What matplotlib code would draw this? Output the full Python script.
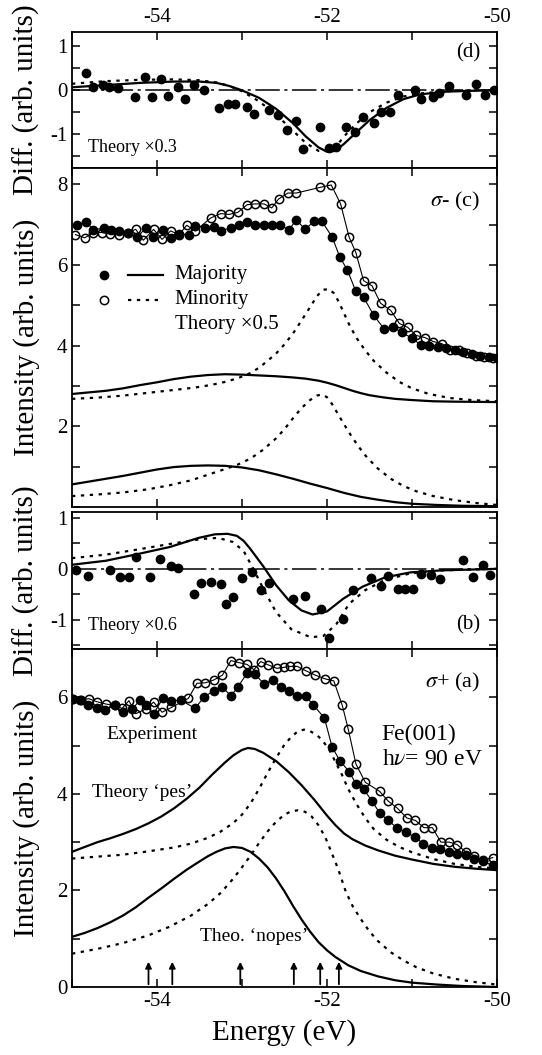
import numpy as np
import matplotlib
matplotlib.use("Agg")
import matplotlib.pyplot as plt
from matplotlib.ticker import MultipleLocator

plt.rcParams['font.family'] = ['Liberation Serif', 'DejaVu Serif']
plt.rcParams['mathtext.fontset'] = 'stix'
plt.rcParams['axes.unicode_minus'] = False

## DATA ##

# Panel (d): sigma- difference
d_exp_e = [-54.84, -54.75, -54.64, -54.57, -54.46, -54.26, -54.14, -54.06, -53.95, -53.87,
           -53.75, -53.67, -53.57, -53.45, -53.27, -53.16, -53.08, -52.94, -52.86, -52.68,
           -52.58, -52.47, -52.37, -52.28, -52.08, -51.98, -51.89, -51.78, -51.67, -51.58,
           -51.45, -51.37, -51.26, -51.17, -50.97, -50.89, -50.75, -50.68, -50.57, -50.36,
           -50.25, -50.14, -50.04]
d_exp_v = [0.40, 0.07, 0.13, 0.07, 0.05, -0.15, 0.30, -0.16, 0.25, -0.12,
           0.07, -0.19, 0.13, 0.0, -0.41, -0.32, -0.32, -0.38, -0.54, -0.44,
           -0.56, -0.91, -0.69, -1.33, -0.83, -1.31, -1.30, -0.83, -0.96, -0.61,
           -0.74, -0.49, -0.49, -0.11, 0.01, -0.19, -0.15, -0.07, 0.10, -0.10,
           0.14, -0.10, 0.0]
d_th_e = [-55.0, -54.6, -54.2, -53.8, -53.5, -53.3, -53.15, -53.0, -52.8, -52.6, -52.4, -52.25,
          -52.1, -52.0, -51.9, -51.8, -51.65, -51.5, -51.3, -51.1, -50.9, -50.6, -50.3, -50.0]
d_th_maj = [0.07, 0.12, 0.17, 0.20, 0.20, 0.17, 0.10, 0.0, -0.17, -0.42, -0.75, -1.05,
            -1.30, -1.40, -1.38, -1.22, -0.95, -0.68, -0.40, -0.20, -0.09, -0.03, -0.01, 0.0]
d_th_min = [0.15, 0.21, 0.24, 0.25, 0.23, 0.18, 0.10, -0.02, -0.25, -0.55, -0.92, -1.20,
            -1.38, -1.38, -1.30, -1.05, -0.75, -0.50, -0.28, -0.14, -0.07, -0.02, 0.0, 0.0]

# Panel (c): sigma- spectra
c_maj_e = [-54.94, -54.83, -54.75, -54.62, -54.54, -54.45, -54.34, -54.23, -54.13, -54.05,
           -53.93, -53.84, -53.74, -53.62, -53.55, -53.43, -53.33, -53.25, -53.13, -53.04,
           -52.94, -52.85, -52.74, -52.65, -52.55, -52.45, -52.36, -52.26, -52.15, -52.06,
           -51.94, -51.85, -51.76, -51.66, -51.57, -51.45, -51.33, -51.22, -51.12, -51.0,
           -50.9, -50.8, -50.7, -50.6, -50.5, -50.4, -50.3, -50.2, -50.1, -50.0]
c_maj_v = [7.0, 7.07, 6.86, 6.92, 6.86, 6.85, 6.80, 6.69, 6.92, 6.69,
           6.86, 6.67, 6.77, 6.74, 6.96, 6.92, 6.94, 6.84, 6.92, 6.98,
           7.07, 6.98, 7.0, 6.98, 7.0, 6.86, 7.12, 6.88, 7.08, 7.08,
           6.69, 6.20, 5.87, 5.34, 5.20, 4.75, 4.42, 4.45, 4.33, 4.18,
           4.02, 4.0, 3.97, 3.95, 3.88, 3.84, 3.80, 3.75, 3.72, 3.68]
c_min_e = [-54.96, -54.85, -54.75, -54.65, -54.55, -54.45, -54.34, -54.25, -54.16, -54.04,
           -53.94, -53.84, -53.74, -53.65, -53.55, -53.37, -53.25, -53.15, -53.05, -52.94,
           -52.85, -52.74, -52.65, -52.57, -52.46, -52.36, -52.08, -51.95, -51.84, -51.74,
           -51.66, -51.57, -51.47, -51.37, -51.25, -51.15, -51.05, -50.95, -50.85, -50.75,
           -50.65, -50.55, -50.45, -50.35, -50.25, -50.15, -50.05]
c_min_v = [6.75, 6.67, 6.80, 6.80, 6.77, 6.75, 6.80, 6.88, 6.61, 6.88,
           6.63, 6.84, 6.75, 6.98, 6.84, 7.16, 7.27, 7.25, 7.30, 7.49,
           7.51, 7.51, 7.41, 7.63, 7.78, 7.78, 7.92, 7.98, 7.51, 6.69,
           6.30, 5.61, 5.48, 5.05, 4.87, 4.55, 4.45, 4.25, 4.20, 4.10,
           4.05, 3.90, 3.88, 3.82, 3.75, 3.72, 3.68]
c_up_maj_e = [-55.0, -54.8, -54.6, -54.4, -54.2, -54.0, -53.8, -53.6, -53.4, -53.2, -53.0, -52.8,
              -52.6, -52.4, -52.25, -52.1, -52.0, -51.9, -51.8, -51.7, -51.6, -51.5, -51.35, -51.2,
              -51.0, -50.75, -50.5, -50.0]
c_up_maj_v = [2.80, 2.84, 2.88, 2.94, 3.02, 3.09, 3.17, 3.23, 3.27, 3.29, 3.28, 3.26,
              3.24, 3.21, 3.18, 3.13, 3.08, 3.02, 2.95, 2.88, 2.82, 2.77, 2.72, 2.68,
              2.65, 2.62, 2.61, 2.60]
c_up_min_e = [-55.0, -54.7, -54.4, -54.1, -53.8, -53.55, -53.35, -53.2, -53.05, -52.9, -52.8, -52.7,
              -52.6, -52.5, -52.4, -52.3, -52.2, -52.12, -52.05, -51.98, -51.92, -51.86, -51.8, -51.73,
              -51.65, -51.55, -51.45, -51.3, -51.15, -51.0, -50.8, -50.55, -50.3, -50.0]
c_up_min_v = [2.68, 2.71, 2.76, 2.83, 2.90, 2.96, 3.03, 3.10, 3.19, 3.32, 3.45, 3.62,
              3.80, 4.03, 4.30, 4.62, 4.95, 5.22, 5.38, 5.40, 5.30, 5.08, 4.80, 4.48,
              4.18, 3.88, 3.62, 3.33, 3.10, 2.94, 2.80, 2.70, 2.65, 2.62]
c_lo_maj_e = [-55.0, -54.8, -54.6, -54.4, -54.2, -54.0, -53.8, -53.6, -53.4, -53.2, -53.0, -52.8,
              -52.6, -52.4, -52.2, -52.0, -51.8, -51.6, -51.4, -51.2, -51.0, -50.7, -50.4, -50.0]
c_lo_maj_v = [0.56, 0.63, 0.70, 0.77, 0.85, 0.93, 0.99, 1.02, 1.03, 1.02, 0.98, 0.91,
              0.81, 0.70, 0.58, 0.47, 0.35, 0.25, 0.18, 0.12, 0.08, 0.05, 0.03, 0.02]
c_lo_min_e = [-55.0, -54.7, -54.4, -54.1, -53.85, -53.6, -53.4, -53.2, -53.05, -52.9, -52.75, -52.6,
              -52.5, -52.4, -52.3, -52.2, -52.12, -52.06, -52.0, -51.94, -51.87, -51.8, -51.72, -51.63,
              -51.53, -51.4, -51.25, -51.1, -50.95, -50.75, -50.5, -50.25, -50.0]
c_lo_min_v = [0.27, 0.31, 0.36, 0.44, 0.54, 0.66, 0.80, 0.94, 1.05, 1.20, 1.42, 1.70,
              1.93, 2.20, 2.45, 2.65, 2.76, 2.79, 2.72, 2.55, 2.30, 2.05, 1.78, 1.50,
              1.23, 0.95, 0.70, 0.52, 0.39, 0.27, 0.17, 0.10, 0.05]

# Panel (b): sigma+ difference
b_exp_e = [-54.95, -54.81, -54.55, -54.44, -54.33, -54.25, -54.08, -53.97, -53.84, -53.75,
           -53.57, -53.48, -53.36, -53.25, -53.19, -53.11, -53.0, -52.88, -52.78, -52.68,
           -52.40, -52.26, -52.07, -51.98, -51.81, -51.69, -51.48, -51.37, -51.28, -51.16,
           -51.08, -50.99, -50.89, -50.78, -50.67, -50.40, -50.28, -50.17, -50.08]
b_exp_v = [-0.02, -0.15, -0.02, -0.17, -0.17, 0.23, -0.16, 0.20, 0.06, 0.01,
           -0.49, -0.27, -0.25, -0.29, -0.69, -0.56, -0.19, -0.07, -0.42, -0.27,
           -0.60, -0.53, -0.79, -1.37, -0.99, -0.42, -0.19, -0.34, -0.15, -0.39,
           -0.39, -0.40, -0.11, -0.12, -0.20, 0.18, -0.17, 0.07, -0.13]
b_maj_e = [-55.0, -54.6, -54.23, -53.85, -53.51, -53.32, -53.17, -53.06, -52.98, -52.91, -52.83,
           -52.75, -52.6, -52.45, -52.3, -52.17, -52.0, -51.81, -51.58, -51.32, -51.02, -50.64, -50.0]
b_maj_v = [0.08, 0.16, 0.29, 0.43, 0.61, 0.68, 0.69, 0.65, 0.55, 0.41, 0.23,
           0.05, -0.32, -0.62, -0.82, -0.90, -0.84, -0.59, -0.35, -0.17, -0.07, -0.03, 0.0]
b_min_e = [-55.0, -54.6, -54.23, -53.85, -53.47, -53.28, -53.11, -52.98, -52.87, -52.75,
           -52.6, -52.42, -52.19, -52.04, -51.89, -51.74, -51.55, -51.32, -51.02, -50.64, -50.0]
b_min_v = [0.21, 0.28, 0.38, 0.49, 0.59, 0.61, 0.53, 0.35, 0.01, -0.39,
           -0.85, -1.19, -1.35, -1.32, -1.09, -0.69, -0.42, -0.22, -0.09, -0.03, 0.0]

# Panel (a): sigma+ spectra
a_maj_e = [-55.0, -54.91, -54.81, -54.71, -54.61, -54.5, -54.4, -54.29, -54.20, -54.13,
           -54.04, -53.93, -53.83, -53.72, -53.55, -53.45, -53.33, -53.23, -53.13, -53.05,
           -52.94, -52.85, -52.74, -52.64, -52.54, -52.45, -52.35, -52.25, -52.16, -52.03,
           -51.94, -51.85, -51.74, -51.66, -51.57, -51.47, -51.38, -51.28, -51.18, -51.07,
           -50.96, -50.87, -50.77, -50.67, -50.57, -50.47, -50.37, -50.27, -50.17, -50.05]
a_maj_v = [5.97, 5.94, 5.83, 5.78, 5.74, 5.83, 5.69, 5.76, 5.94, 5.83,
           5.66, 5.98, 5.93, 5.94, 5.77, 6.0, 6.14, 6.21, 6.03, 6.21,
           6.50, 6.48, 6.28, 6.36, 6.21, 6.14, 6.03, 6.02, 5.84, 5.57,
           4.97, 4.69, 4.46, 4.21, 4.10, 3.85, 3.60, 3.45, 3.30, 3.20,
           3.10, 2.97, 2.88, 2.85, 2.80, 2.76, 2.74, 2.66, 2.60, 2.52]
a_min_e = [-54.99, -54.90, -54.80, -54.71, -54.60, -54.50, -54.41, -54.33, -54.25, -54.13,
           -54.04, -53.94, -53.83, -53.63, -53.53, -53.43, -53.33, -53.23, -53.13, -53.04,
           -52.94, -52.86, -52.78, -52.69, -52.59, -52.51, -52.43, -52.35, -52.25, -52.14,
           -52.02, -51.92, -51.82, -51.75, -51.66, -51.55, -51.38, -51.28, -51.17, -51.06,
           -50.96, -50.86, -50.76, -50.66, -50.56, -50.47, -50.37, -50.27, -50.17, -50.05]
a_min_v = [5.97, 5.95, 5.97, 5.91, 5.86, 5.83, 5.77, 5.93, 5.66, 5.76,
           5.90, 5.69, 5.79, 5.98, 6.29, 6.30, 6.36, 6.46, 6.76, 6.72,
           6.68, 6.57, 6.74, 6.67, 6.60, 6.62, 6.64, 6.64, 6.55, 6.46,
           6.38, 6.34, 5.83, 5.34, 4.62, 4.24, 4.05, 3.85, 3.70, 3.50,
           3.45, 3.30, 3.30, 3.00, 3.00, 2.95, 2.80, 2.72, 2.62, 2.68]
a_up_maj_e = [-55.0, -54.85, -54.7, -54.55, -54.4, -54.25, -54.1, -53.95, -53.8, -53.65, -53.5, -53.35,
              -53.2, -53.1, -53.0, -52.93, -52.85, -52.75, -52.6, -52.45, -52.3, -52.15, -52.0, -51.9,
              -51.8, -51.7, -51.55, -51.4, -51.2, -51.0, -50.75, -50.5, -50.25, -50.0]
a_up_maj_v = [2.80, 2.90, 3.00, 3.08, 3.17, 3.27, 3.39, 3.53, 3.70, 3.90, 4.13, 4.40,
              4.65, 4.80, 4.91, 4.95, 4.93, 4.85, 4.68, 4.45, 4.18, 3.88, 3.55, 3.35,
              3.18, 3.06, 2.93, 2.83, 2.72, 2.64, 2.55, 2.49, 2.45, 2.42]
a_up_min_e = [-55.0, -54.7, -54.4, -54.1, -53.8, -53.6, -53.4, -53.25, -53.1, -53.0, -52.9, -52.8,
              -52.7, -52.6, -52.5, -52.42, -52.34, -52.27, -52.2, -52.12, -52.05, -51.97, -51.9, -51.82,
              -51.75, -51.65, -51.55, -51.45, -51.3, -51.15, -51.0, -50.75, -50.5, -50.25, -50.0]
a_up_min_v = [2.66, 2.70, 2.74, 2.81, 2.89, 2.97, 3.09, 3.22, 3.40, 3.57, 3.80, 4.10,
              4.43, 4.74, 5.02, 5.18, 5.30, 5.33, 5.30, 5.22, 5.10, 4.90, 4.66, 4.38,
              4.10, 3.78, 3.50, 3.27, 3.05, 2.90, 2.79, 2.65, 2.55, 2.49, 2.45]
a_lo_maj_e = [-55.0, -54.85, -54.7, -54.55, -54.4, -54.25, -54.1, -53.95, -53.8, -53.65, -53.5, -53.4,
              -53.3, -53.2, -53.1, -53.0, -52.9, -52.8, -52.7, -52.6, -52.5, -52.4, -52.3, -52.2,
              -52.1, -52.0, -51.9, -51.75, -51.6, -51.4, -51.2, -51.0, -50.7, -50.4, -50.0]
a_lo_maj_v = [1.04, 1.12, 1.22, 1.34, 1.48, 1.65, 1.85, 2.04, 2.24, 2.43, 2.60, 2.71,
              2.80, 2.87, 2.90, 2.88, 2.80, 2.66, 2.48, 2.25, 1.98, 1.68, 1.40, 1.15,
              0.93, 0.76, 0.62, 0.45, 0.33, 0.22, 0.14, 0.09, 0.05, 0.02, 0.0]
a_lo_min_e = [-55.0, -54.7, -54.4, -54.1, -53.85, -53.6, -53.4, -53.25, -53.1, -53.0, -52.9, -52.8,
              -52.7, -52.6, -52.5, -52.42, -52.34, -52.26, -52.18, -52.1, -52.02, -51.95, -51.87, -51.78,
              -51.7, -51.6, -51.5, -51.4, -51.25, -51.1, -50.95, -50.75, -50.5, -50.25, -50.0]
a_lo_min_v = [0.69, 0.79, 0.91, 1.07, 1.25, 1.48, 1.72, 1.95, 2.25, 2.48, 2.72, 2.98,
              3.22, 3.42, 3.57, 3.64, 3.66, 3.63, 3.53, 3.35, 3.10, 2.80, 2.45, 1.98,
              1.68, 1.40, 1.15, 0.95, 0.72, 0.55, 0.41, 0.28, 0.17, 0.10, 0.05]

# Energies of the arrows in panel (a)
arrow_e = [-54.1, -53.82, -53.02, -52.39, -52.08, -51.86]

## FIGURE ##

fig = plt.figure(figsize=(5.42, 10.55), dpi=100)
L, W = 72 / 542, 425 / 542
H = 1055
axd = fig.add_axes([L, 1 - 168 / H, W, 136 / H])
axc = fig.add_axes([L, 1 - 507 / H, W, 339 / H])
axb = fig.add_axes([L, 1 - 649 / H, W, 137 / H])
axa = fig.add_axes([L, 1 - 987 / H, W, 338 / H])

tick_fs = 15
lab_fs = 21
lw_th = 1.6
ms = 6
dots = (0, (1.5, 2.5))

for ax in [axd, axc, axb, axa]:
    ax.set_xlim(-55, -50)
    ax.xaxis.set_major_locator(MultipleLocator(2))
    ax.xaxis.set_minor_locator(MultipleLocator(1))
    ax.tick_params(which='both', direction='in', top=True, right=True,
                   length=6, width=1.1, labelsize=tick_fs)
    for s in ax.spines.values():
        s.set_linewidth(1.3)
    ax.tick_params(axis='x', labelbottom=False)

# Difference panels (d) and (b)
axd.set_ylim(-1.77, 1.33)
axb.set_ylim(-1.58, 1.12)
for ax in [axd, axb]:
    ax.yaxis.set_major_locator(MultipleLocator(1))
    ax.yaxis.set_minor_locator(MultipleLocator(0.5))
    ax.axhline(0, color='k', lw=1.1, linestyle=(0, (16, 3, 2, 3)))
    ax.set_ylabel('Diff. (arb. units)', fontsize=lab_fs)

axd.plot(d_th_e, d_th_maj, color='k', lw=lw_th)
axd.plot(d_th_e, d_th_min, color='k', lw=lw_th, linestyle=dots)
axd.plot(d_exp_e, d_exp_v, 'o', color='k', ms=ms, lw=0)
axd.tick_params(axis='x', labeltop=True)
axd.text(0.96, 0.85, '(d)', transform=axd.transAxes, ha='right', va='center', fontsize=15)
axd.text(0.038, 0.15, 'Theory \u00d70.3', transform=axd.transAxes, ha='left', va='center', fontsize=13)

axb.plot(b_maj_e, b_maj_v, color='k', lw=lw_th)
axb.plot(b_min_e, b_min_v, color='k', lw=lw_th, linestyle=dots)
axb.plot(b_exp_e, b_exp_v, 'o', color='k', ms=ms, lw=0)
axb.text(0.96, 0.175, '(b)', transform=axb.transAxes, ha='right', va='center', fontsize=15)
axb.text(0.038, 0.175, 'Theory \u00d70.6', transform=axb.transAxes, ha='left', va='center', fontsize=13)

# Intensity panels (c) and (a)
axc.set_ylim(0, 8.4)
axa.set_ylim(0, 7.0)
for ax in [axc, axa]:
    ax.yaxis.set_major_locator(MultipleLocator(2))
    ax.yaxis.set_minor_locator(MultipleLocator(1))
    ax.set_ylabel('Intensity (arb. units)', fontsize=lab_fs)
axc.set_yticks([2, 4, 6, 8])

# Panel (c)
axc.plot(c_up_maj_e, c_up_maj_v, color='k', lw=lw_th)
axc.plot(c_up_min_e, c_up_min_v, color='k', lw=lw_th, linestyle=dots)
axc.plot(c_lo_maj_e, c_lo_maj_v, color='k', lw=lw_th)
axc.plot(c_lo_min_e, c_lo_min_v, color='k', lw=lw_th, linestyle=dots)
axc.plot(c_min_e, c_min_v, '-o', color='k', lw=0.8, ms=ms, mfc='none', mew=1.1)
axc.plot(c_maj_e, c_maj_v, '-o', color='k', lw=0.8, ms=ms)
axc.text(0.96, 0.9, r'$\sigma$- (c)', transform=axc.transAxes, ha='right', va='center', fontsize=16)

# hand-made legend
axc.plot([0.075], [0.685], 'o', color='k', ms=ms, transform=axc.transAxes)
axc.plot([0.132, 0.214], [0.685, 0.685], color='k', lw=lw_th, transform=axc.transAxes)
axc.text(0.242, 0.685, 'Majority', transform=axc.transAxes, va='center', fontsize=15)
axc.plot([0.075], [0.612], 'o', color='k', ms=ms, mfc='none', mew=1.1, transform=axc.transAxes)
axc.plot([0.132, 0.214], [0.612, 0.612], color='k', lw=lw_th, linestyle=dots,
         transform=axc.transAxes)
axc.text(0.242, 0.612, 'Minority', transform=axc.transAxes, va='center', fontsize=15)
axc.text(0.242, 0.538, 'Theory \u00d70.5', transform=axc.transAxes, va='center', fontsize=15)

# Panel (a)
axa.plot(a_up_maj_e, a_up_maj_v, color='k', lw=lw_th)
axa.plot(a_up_min_e, a_up_min_v, color='k', lw=lw_th, linestyle=dots)
axa.plot(a_lo_maj_e, a_lo_maj_v, color='k', lw=lw_th)
axa.plot(a_lo_min_e, a_lo_min_v, color='k', lw=lw_th, linestyle=dots)
axa.plot(a_min_e, a_min_v, '-o', color='k', lw=0.8, ms=ms, mfc='none', mew=1.1)
axa.plot(a_maj_e, a_maj_v, '-o', color='k', lw=0.8, ms=ms)
for e in arrow_e:
    axa.annotate('', xy=(e, 0.58), xytext=(e, 0.0),
                 arrowprops=dict(arrowstyle='-|>', color='k', lw=1.3, mutation_scale=9))
axa.tick_params(axis='x', labelbottom=True)
axa.set_xlabel('Energy (eV)', fontsize=21, labelpad=6)
axa.text(0.96, 0.9, r'$\sigma$+ (a)', transform=axa.transAxes, ha='right', va='center', fontsize=16)
axa.text(0.188, 0.746, 'Experiment', transform=axa.transAxes, ha='center', va='center', fontsize=14)
axa.text(0.729, 0.746, 'Fe(001)', transform=axa.transAxes, ha='left', va='center', fontsize=17)
axa.text(0.729, 0.672, r'h$\nu$= 90 eV', transform=axa.transAxes, ha='left', va='center', fontsize=17)
axa.text(0.047, 0.574, 'Theory \u2018pes\u2019', transform=axa.transAxes, ha='left', va='center', fontsize=14)
axa.text(0.30, 0.148, 'Theo. \u2018nopes\u2019', transform=axa.transAxes, ha='left', va='center', fontsize=14)

# line up the y labels
for ax in [axd, axc, axb, axa]:
    ax.yaxis.set_label_coords(-0.075, 0.5)

fig.savefig('out.png', dpi=100)
